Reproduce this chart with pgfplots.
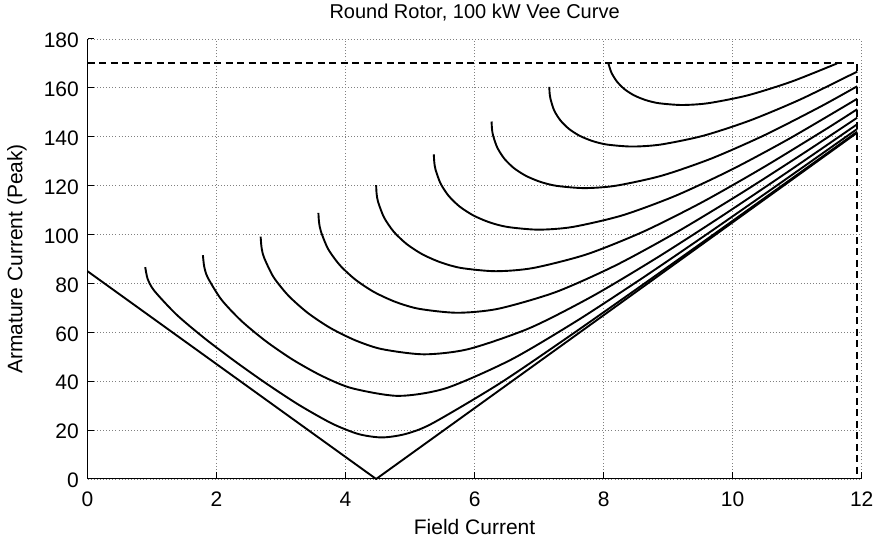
\documentclass[border=0pt]{standalone}
\usepackage{pgfplots}
\pgfplotsset{compat=1.18}
\usepackage{fontspec}
\setmainfont{Liberation Sans}
\pgfplotsset{vee/.style={black, solid, line width=1.9pt, line join=round, mark=none, smooth, tension=0.45}}
\begin{document}
\fontsize{20pt}{24pt}\selectfont
\begin{tikzpicture}
\begin{axis}[
  at={(87.5pt,61pt)}, anchor=south west,
  scale only axis, width=774.2pt, height=440pt,
  xmin=0, xmax=12, ymin=0, ymax=180,
  xtick={0,2,...,12}, ytick={0,20,...,180},
  axis x line*=bottom, axis y line*=left,
  axis line style={-, black, line width=1pt},
  tick align=inside, major tick length=7pt,
  tick style={black, line width=1pt},
  grid=major,
  major grid style={dash pattern=on 0.9pt off 2.2pt, black!50, line width=0.8pt},
  /pgf/number format/assume math mode=true,
  ticklabel style={font=\fontsize{21pt}{25pt}\selectfont},
  xticklabel style={anchor=base, inner sep=0pt, yshift=-27.3pt},
  yticklabel style={anchor=east, inner sep=0pt, xshift=-8.5pt, yshift=-1.5pt},
  title={Round Rotor, 100 kW Vee Curve},
  title style={at={(axis description cs:0.5,1)}, anchor=base, yshift=14pt, inner sep=0pt, font=\fontsize{20pt}{24pt}\selectfont},
  xlabel={Field Current},
  xlabel style={at={(axis description cs:0.5,0)}, anchor=base, yshift=-56pt, inner sep=0pt, font=\fontsize{21pt}{25pt}\selectfont},
  ylabel={Armature Current (Peak)},
  ylabel style={at={(axis description cs:-0.0842,0.5)}, anchor=base, inner sep=0pt, font=\fontsize{21pt}{25pt}\selectfont},
  clip=false,
]
% current and field limits
\addplot[black, dash pattern=on 7pt off 4.5pt, line width=1.9pt, line join=miter, mark=none] coordinates {(0,170) (11.93,170) (11.93,0)};
% P = 0
\addplot[black, line width=1.9pt, line join=round, mark=none] coordinates {(0,85) (4.474,0) (11.93,141.67)};
% p = 17
\addplot[vee] coordinates {(0.895,86.68) (0.933,81.79) (1.038,76.90) (1.382,67.19) (1.814,57.57) (2.288,48.10) (2.780,38.91) (3.282,30.23) (3.791,22.67) (4.201,18.38) (4.562,17.00) (4.924,18.38) (5.339,22.67) (6.378,38.91) (7.422,57.57) (8.468,76.90) (9.516,96.51) (10.564,116.25) (11.614,136.07) (11.93,142.05)};
% p = 34
\addplot[vee] coordinates {(1.789,91.55) (1.809,86.92) (1.865,82.35) (2.076,73.36) (2.386,64.66) (2.763,56.40) (3.182,48.80) (3.630,42.20) (4.096,37.16) (4.819,34.00) (5.559,37.16) (6.564,48.80) (7.582,64.66) (8.609,82.35) (9.641,100.90) (10.677,119.92) (11.716,139.22) (11.93,143.19)};
% p = 51
\addplot[vee] coordinates {(2.684,99.13) (2.697,94.87) (2.735,90.70) (2.883,82.62) (3.114,75.01) (3.411,68.01) (3.759,61.85) (4.145,56.80) (4.558,53.16) (5.217,51.00) (5.908,53.16) (6.863,61.85) (7.842,75.01) (8.838,90.70) (9.847,107.82) (10.863,125.80) (11.93,145.12)};
% p = 68
\addplot[vee] coordinates {(3.579,108.85) (3.589,105.00) (3.618,101.24) (3.730,94.07) (3.912,87.46) (4.153,81.54) (4.442,76.48) (4.773,72.45) (5.137,69.63) (5.729,68.00) (6.365,69.63) (7.259,76.48) (8.192,87.46) (9.150,101.24) (10.127,116.83) (11.118,133.60) (11.93,147.80)};
% p = 85
\addplot[vee] coordinates {(4.474,120.21) (4.481,116.73) (4.504,113.36) (4.596,107.00) (4.744,101.24) (4.944,96.18) (5.190,91.92) (5.476,88.60) (5.795,86.31) (6.327,85.00) (6.907,86.31) (7.739,91.92) (8.620,101.24) (9.536,113.36) (10.476,127.48) (11.438,143.00) (11.93,151.27)};
% p = 102
\addplot[vee] coordinates {(5.368,132.77) (5.375,129.63) (5.394,126.61) (5.471,120.95) (5.596,115.88) (5.766,111.49) (5.979,107.84) (6.228,105.02) (6.511,103.10) (6.988,102.00) (7.518,103.10) (8.289,107.84) (9.116,115.88) (9.987,126.61) (10.889,139.39) (11.93,155.54)};
% p = 119
\addplot[vee] coordinates {(6.263,146.24) (6.269,143.39) (6.285,140.66) (6.351,135.60) (6.459,131.10) (6.607,127.22) (6.794,124.04) (7.014,121.60) (7.266,119.94) (7.697,119.00) (8.181,119.94) (8.895,124.04) (9.670,131.10) (10.494,140.66) (11.357,152.27) (11.93,160.65)};
% p = 136
\addplot[vee] coordinates {(7.158,160.38) (7.163,157.78) (7.178,155.31) (7.234,150.73) (7.330,146.70) (7.461,143.25) (7.626,140.43) (7.824,138.28) (8.051,136.82) (8.441,136.00) (8.885,136.82) (9.546,140.43) (10.272,146.70) (11.052,155.31) (11.93,166.66)};
% p = 153 (limited by 170 A)
\addplot[vee] coordinates {(8.074,170.00) (8.121,166.23) (8.206,162.59) (8.323,159.48) (8.471,156.95) (8.649,155.03) (8.855,153.73) (9.212,153.00) (9.620,153.73) (10.234,156.95) (10.915,162.59) (11.618,170.00)};
\end{axis}
\pgfresetboundingbox
\useasboundingbox (0,0) rectangle (875pt,540pt);
\end{tikzpicture}
\end{document}
